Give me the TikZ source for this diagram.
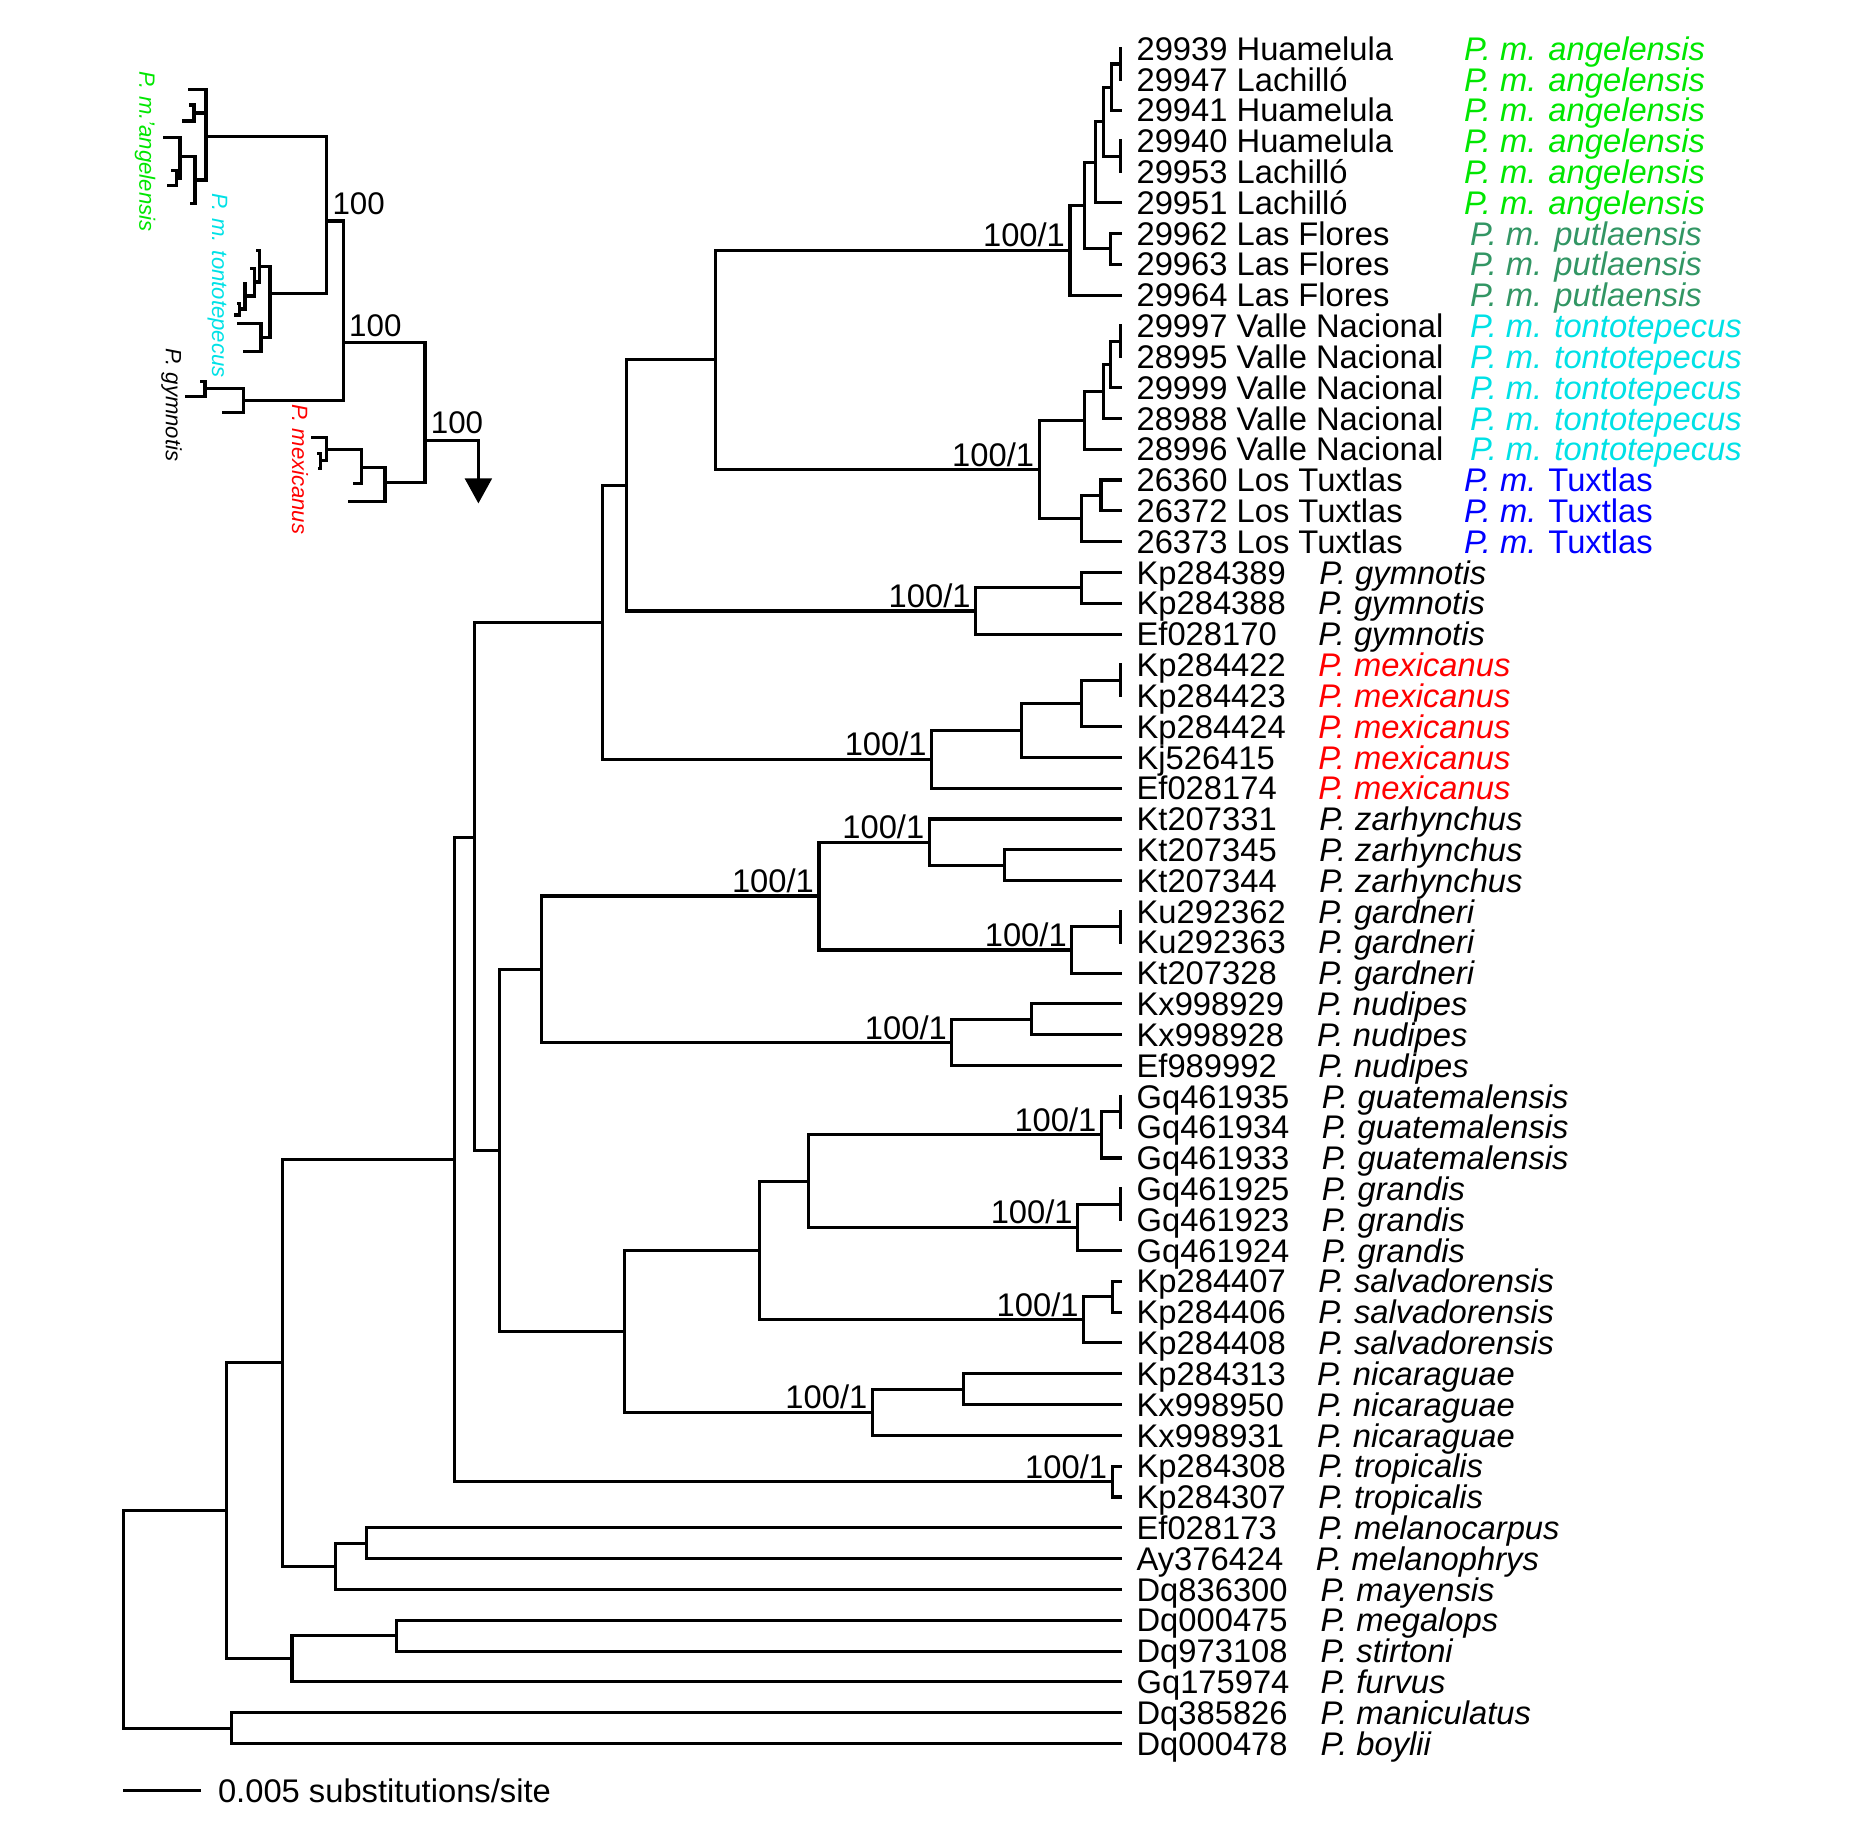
\documentclass[tikz,border=0pt]{standalone}
\usepackage{fontspec}
\setmainfont{Liberation Sans}
\usepackage{tikz}
\usetikzlibrary{arrows.meta,positioning}
\definecolor{angelgreen}{RGB}{0,230,0}
\definecolor{putlagreen}{RGB}{50,150,100}
\definecolor{tontocyan}{RGB}{0,225,230}
\definecolor{tuxblue}{RGB}{0,0,255}
\definecolor{mexred}{RGB}{255,0,0}
\newcommand{\tfont}{\fontsize{7.84}{9.4}\selectfont}
\tikzset{
  branch/.style={line width=0.75pt},
  elbow/.style={to path={|- (\tikztotarget) \tikztonodes}},
  acc/.style={anchor=west,inner xsep=3.4pt,inner ysep=0pt,text height=5.6pt,text depth=0pt,font=\tfont},
  spec/.style={anchor=west,inner sep=0pt,text height=5.6pt,text depth=0pt,font=\tfont\itshape},
  boot/.style={anchor=south east,inner xsep=1pt,inner ysep=0.6pt,text height=5.6pt,text depth=0pt,font=\tfont},
  ilabel/.style={anchor=south west,inner xsep=1.2pt,inner ysep=1.4pt,text height=5.4pt,text depth=0pt,font=\fontsize{7.5}{9}\selectfont},
  isp/.style={rotate=-90,inner sep=0pt,font=\fontsize{5.3}{6.4}\selectfont\itshape}
}
\begin{document}
\begin{tikzpicture}[x=0.01cm,y=-0.2595cm]
\useasboundingbox (0,-1.5761) rectangle (1568,57.615);

% tips
\node[acc] (tip0) at (945,0) {29939 Huamelula};
\node[acc] (tip1) at (945,1) {29947 Lachilló};
\node[acc] (tip2) at (945,2) {29941 Huamelula};
\node[acc] (tip3) at (945,3) {29940 Huamelula};
\node[acc] (tip4) at (945,4) {29953 Lachilló};
\node[acc] (tip5) at (945,5) {29951 Lachilló};
\node[acc] (tip6) at (945,6) {29962 Las Flores};
\node[acc] (tip7) at (945,7) {29963 Las Flores};
\node[acc] (tip8) at (945,8) {29964 Las Flores};
\node[acc] (tip9) at (945,9) {29997 Valle Nacional};
\node[acc] (tip10) at (945,10) {28995 Valle Nacional};
\node[acc] (tip11) at (945,11) {29999 Valle Nacional};
\node[acc] (tip12) at (945,12) {28988 Valle Nacional};
\node[acc] (tip13) at (945,13) {28996 Valle Nacional};
\node[acc] (tip14) at (945,14) {26360 Los Tuxtlas};
\node[acc] (tip15) at (945,15) {26372 Los Tuxtlas};
\node[acc] (tip16) at (945,16) {26373 Los Tuxtlas};
\node[acc] (tip17) at (945,17) {Kp284389};
\node[acc] (tip18) at (945,18) {Kp284388};
\node[acc] (tip19) at (945,19) {Ef028170};
\node[acc] (tip20) at (945,20) {Kp284422};
\node[acc] (tip21) at (945,21) {Kp284423};
\node[acc] (tip22) at (945,22) {Kp284424};
\node[acc] (tip23) at (945,23) {Kj526415};
\node[acc] (tip24) at (945,24) {Ef028174};
\node[acc] (tip25) at (945,25) {Kt207331};
\node[acc] (tip26) at (945,26) {Kt207345};
\node[acc] (tip27) at (945,27) {Kt207344};
\node[acc] (tip28) at (945,28) {Ku292362};
\node[acc] (tip29) at (945,29) {Ku292363};
\node[acc] (tip30) at (945,30) {Kt207328};
\node[acc] (tip31) at (945,31) {Kx998929};
\node[acc] (tip32) at (945,32) {Kx998928};
\node[acc] (tip33) at (945,33) {Ef989992};
\node[acc] (tip34) at (945,34) {Gq461935};
\node[acc] (tip35) at (945,35) {Gq461934};
\node[acc] (tip36) at (945,36) {Gq461933};
\node[acc] (tip37) at (945,37) {Gq461925};
\node[acc] (tip38) at (945,38) {Gq461923};
\node[acc] (tip39) at (945,39) {Gq461924};
\node[acc] (tip40) at (945,40) {Kp284407};
\node[acc] (tip41) at (945,41) {Kp284406};
\node[acc] (tip42) at (945,42) {Kp284408};
\node[acc] (tip43) at (945,43) {Kp284313};
\node[acc] (tip44) at (945,44) {Kx998950};
\node[acc] (tip45) at (945,45) {Kx998931};
\node[acc] (tip46) at (945,46) {Kp284308};
\node[acc] (tip47) at (945,47) {Kp284307};
\node[acc] (tip48) at (945,48) {Ef028173};
\node[acc] (tip49) at (945,49) {Ay376424};
\node[acc] (tip50) at (945,50) {Dq836300};
\node[acc] (tip51) at (945,51) {Dq000475};
\node[acc] (tip52) at (945,52) {Dq973108};
\node[acc] (tip53) at (945,53) {Gq175974};
\node[acc] (tip54) at (945,54) {Dq385826};
\node[acc] (tip55) at (945,55) {Dq000478};

% species names
\node[spec,text=angelgreen] (sp0) at (1233,0) {P. m. angelensis};
\node[spec,text=angelgreen] (sp1) at (1233,1) {P. m. angelensis};
\node[spec,text=angelgreen] (sp2) at (1233,2) {P. m. angelensis};
\node[spec,text=angelgreen] (sp3) at (1233,3) {P. m. angelensis};
\node[spec,text=angelgreen] (sp4) at (1233,4) {P. m. angelensis};
\node[spec,text=angelgreen] (sp5) at (1233,5) {P. m. angelensis};
\node[spec,text=putlagreen] (sp6) at (1238,6) {P. m. putlaensis};
\node[spec,text=putlagreen] (sp7) at (1238,7) {P. m. putlaensis};
\node[spec,text=putlagreen] (sp8) at (1238,8) {P. m. putlaensis};
\node[spec,text=tontocyan] (sp9) at (1238,9) {P. m. tontotepecus};
\node[spec,text=tontocyan] (sp10) at (1238,10) {P. m. tontotepecus};
\node[spec,text=tontocyan] (sp11) at (1238,11) {P. m. tontotepecus};
\node[spec,text=tontocyan] (sp12) at (1238,12) {P. m. tontotepecus};
\node[spec,text=tontocyan] (sp13) at (1238,13) {P. m. tontotepecus};
\node[spec,text=tuxblue] (sp14) at (1233,14) {P. m. \upshape Tuxtlas};
\node[spec,text=tuxblue] (sp15) at (1233,15) {P. m. \upshape Tuxtlas};
\node[spec,text=tuxblue] (sp16) at (1233,16) {P. m. \upshape Tuxtlas};
\node[spec] (sp17) at (1111,17) {P. gymnotis};
\node[spec] (sp18) at (1110,18) {P. gymnotis};
\node[spec] (sp19) at (1110,19) {P. gymnotis};
\node[spec,text=mexred] (sp20) at (1110,20) {P. mexicanus};
\node[spec,text=mexred] (sp21) at (1110,21) {P. mexicanus};
\node[spec,text=mexred] (sp22) at (1110,22) {P. mexicanus};
\node[spec,text=mexred] (sp23) at (1110,23) {P. mexicanus};
\node[spec,text=mexred] (sp24) at (1110,24) {P. mexicanus};
\node[spec] (sp25) at (1111,25) {P. zarhynchus};
\node[spec] (sp26) at (1111,26) {P. zarhynchus};
\node[spec] (sp27) at (1111,27) {P. zarhynchus};
\node[spec] (sp28) at (1110,28) {P. gardneri};
\node[spec] (sp29) at (1110,29) {P. gardneri};
\node[spec] (sp30) at (1110,30) {P. gardneri};
\node[spec] (sp31) at (1109,31) {P. nudipes};
\node[spec] (sp32) at (1109,32) {P. nudipes};
\node[spec] (sp33) at (1110,33) {P. nudipes};
\node[spec] (sp34) at (1113,34) {P. guatemalensis};
\node[spec] (sp35) at (1113,35) {P. guatemalensis};
\node[spec] (sp36) at (1113,36) {P. guatemalensis};
\node[spec] (sp37) at (1113,37) {P. grandis};
\node[spec] (sp38) at (1113,38) {P. grandis};
\node[spec] (sp39) at (1113,39) {P. grandis};
\node[spec] (sp40) at (1110,40) {P. salvadorensis};
\node[spec] (sp41) at (1110,41) {P. salvadorensis};
\node[spec] (sp42) at (1110,42) {P. salvadorensis};
\node[spec] (sp43) at (1109,43) {P. nicaraguae};
\node[spec] (sp44) at (1109,44) {P. nicaraguae};
\node[spec] (sp45) at (1109,45) {P. nicaraguae};
\node[spec] (sp46) at (1110,46) {P. tropicalis};
\node[spec] (sp47) at (1110,47) {P. tropicalis};
\node[spec] (sp48) at (1110,48) {P. melanocarpus};
\node[spec] (sp49) at (1108,49) {P. melanophrys};
\node[spec] (sp50) at (1112,50) {P. mayensis};
\node[spec] (sp51) at (1112,51) {P. megalops};
\node[spec] (sp52) at (1112,52) {P. stirtoni};
\node[spec] (sp53) at (1112,53) {P. furvus};
\node[spec] (sp54) at (1112,54) {P. maniculatus};
\node[spec] (sp55) at (1112,55) {P. boylii};

% internal nodes
\coordinate (a1) at (944,0.5);
\coordinate (a2) at (936.4,1.25);
\coordinate (a3) at (944,3.5);
\coordinate (a4) at (929.8,2.375);
\coordinate (a5) at (923.3,3.6875);
\coordinate (p1) at (935.5,6.5);
\coordinate (a6) at (913.7,5.094);
\coordinate (n1) at (901.5,6.547);
\coordinate (b1) at (944,9.5);
\coordinate (b2) at (936,10.25);
\coordinate (b3) at (929.8,11.125);
\coordinate (b4) at (913.7,12.063);
\coordinate (c1) at (927.7,14.5);
\coordinate (c2) at (911.5,15.25);
\coordinate (n2) at (875.5,13.656);
\coordinate (n3) at (603,10.102);
\coordinate (g1) at (911,17.5);
\coordinate (g2) at (822,18.25);
\coordinate (n4) at (528,14.176);
\coordinate (m1) at (944,20.5);
\coordinate (m2) at (911,21.25);
\coordinate (m3) at (861,22.125);
\coordinate (m4) at (785,23.063);
\coordinate (n5) at (508,18.619);
\coordinate (z1) at (846,26.5);
\coordinate (z2) at (783,25.75);
\coordinate (d1) at (944,28.5);
\coordinate (d2) at (903,29.25);
\coordinate (z3) at (690,27.5);
\coordinate (u1) at (869,31.5);
\coordinate (u2) at (802,32.25);
\coordinate (n6) at (456,29.875);
\coordinate (q1) at (944,34.5);
\coordinate (q2) at (928,35.25);
\coordinate (r1) at (944,37.5);
\coordinate (r2) at (908,38.25);
\coordinate (qr) at (681,36.75);
\coordinate (s1) at (937,40.5);
\coordinate (s2) at (913,41.25);
\coordinate (qs) at (640,39);
\coordinate (k1) at (812,43.5);
\coordinate (k2) at (735,44.25);
\coordinate (n7) at (526,41.625);
\coordinate (n8) at (421,35.75);
\coordinate (n9) at (400,25.59);
\coordinate (tr) at (937,46.5);
\coordinate (n10) at (383,36.045);
\coordinate (e1) at (309,48.5);
\coordinate (e2) at (283,49.25);
\coordinate (n11) at (238,42.648);
\coordinate (f1) at (334,51.5);
\coordinate (f2) at (246,52.25);
\coordinate (n12) at (191,47.449);
\coordinate (h1) at (195,54.5);
\coordinate (root) at (104,50.975);

\path[draw,branch,elbow]
(a1) edge (tip0) edge (tip1)
(a2) edge (a1) edge (tip2)
(a3) edge (tip3) edge (tip4)
(a4) edge (a2) edge (a3)
(a5) edge (a4) edge (tip5)
(p1) edge (tip6) edge (tip7)
(a6) edge (a5) edge (p1)
(n1) edge (a6) edge (tip8)
(b1) edge (tip9) edge (tip10)
(b2) edge (b1) edge (tip11)
(b3) edge (b2) edge (tip12)
(b4) edge (b3) edge (tip13)
(c1) edge (tip14) edge (tip15)
(c2) edge (c1) edge (tip16)
(n2) edge (b4) edge (c2)
(n3) edge (n1) edge (n2)
(g1) edge (tip17) edge (tip18)
(g2) edge (g1) edge (tip19)
(n4) edge (n3) edge (g2)
(m1) edge (tip20) edge (tip21)
(m2) edge (m1) edge (tip22)
(m3) edge (m2) edge (tip23)
(m4) edge (m3) edge (tip24)
(n5) edge (n4) edge (m4)
(z1) edge (tip26) edge (tip27)
(z2) edge (tip25) edge (z1)
(d1) edge (tip28) edge (tip29)
(d2) edge (d1) edge (tip30)
(z3) edge (z2) edge (d2)
(u1) edge (tip31) edge (tip32)
(u2) edge (u1) edge (tip33)
(n6) edge (z3) edge (u2)
(q1) edge (tip34) edge (tip35)
(q2) edge (q1) edge (tip36)
(r1) edge (tip37) edge (tip38)
(r2) edge (r1) edge (tip39)
(qr) edge (q2) edge (r2)
(s1) edge (tip40) edge (tip41)
(s2) edge (s1) edge (tip42)
(qs) edge (qr) edge (s2)
(k1) edge (tip43) edge (tip44)
(k2) edge (k1) edge (tip45)
(n7) edge (qs) edge (k2)
(n8) edge (n6) edge (n7)
(n9) edge (n5) edge (n8)
(tr) edge (tip46) edge (tip47)
(n10) edge (n9) edge (tr)
(e1) edge (tip48) edge (tip49)
(e2) edge (e1) edge (tip50)
(n11) edge (n10) edge (e2)
(f1) edge (tip51) edge (tip52)
(f2) edge (f1) edge (tip53)
(n12) edge (n11) edge (f2)
(h1) edge (tip54) edge (tip55)
(root) edge (n12) edge (h1);

% support values
\node[boot] (bs1) at (n1) {100/1};
\node[boot] (bs2) at (n2) {100/1};
\node[boot] (bs3) at (g2) {100/1};
\node[boot] (bs4) at (m4) {100/1};
\node[boot] (bs5) at (z2) {100/1};
\node[boot] (bs6) at (z3) {100/1};
\node[boot] (bs7) at (d2) {100/1};
\node[boot] (bs8) at (u2) {100/1};
\node[boot] (bs9) at (q2) {100/1};
\node[boot] (bs10) at (r2) {100/1};
\node[boot] (bs11) at (s2) {100/1};
\node[boot] (bs12) at (k2) {100/1};
\node[boot] (bs13) at (tr) {100/1};

% scale bar
\coordinate (sb0) at (104,56.535);
\coordinate (sb1) at (169,56.535);
\draw[branch] (sb0) -- (sb1);
\node[anchor=west,inner sep=0pt,text height=5.6pt,text depth=0pt,font=\tfont] (sbtext) at (183,56.535) {0.005 substitutions/site};

% inset
\begin{scope}[shift={(84.25,-0.2775)},x=0.0028083cm,y=-0.0028083cm]
\coordinate (ia1) at (265,148);
\coordinate (ia2) at (268,195);
\coordinate (ia3) at (245,243);
\coordinate (ia4) at (190,293);
\coordinate (ia5) at (212,392);
\coordinate (ia6) at (200,437);
\coordinate (ia7) at (270,490);
\coordinate (iA1) at (282,219);
\coordinate (iA4) at (230,414);
\coordinate (iA3) at (240,350);
\coordinate (iA2) at (285,420);
\coordinate (iA0) at (318,290);
\coordinate (it1) at (468,632);
\coordinate (it2) at (450,685);
\coordinate (it3) at (428,730);
\coordinate (it4) at (410,790);
\coordinate (it5) at (402,825);
\coordinate (iL4) at (418,807);
\coordinate (iL3) at (435,768);
\coordinate (iL2) at (463,726);
\coordinate (iL1) at (478,679);
\coordinate (ix1) at (410,850);
\coordinate (ix2) at (430,935);
\coordinate (iU) at (483,892);
\coordinate (iT0) at (510,760);
\coordinate (ig1) at (300,1025);
\coordinate (ig2) at (255,1068);
\coordinate (ig3) at (365,1118);
\coordinate (iG1) at (315,1046);
\coordinate (iG2) at (430,1080);
\coordinate (im1) at (632,1192);
\coordinate (im2) at (652,1240);
\coordinate (im3) at (655,1285);
\coordinate (im4) at (760,1330);
\coordinate (im5) at (745,1385);
\coordinate (iM0) at (662,1262);
\coordinate (iM1) at (680,1227);
\coordinate (iM2) at (785,1282);
\coordinate (iM3) at (855,1328);
\coordinate (iR1) at (680,543);
\coordinate (iR2) at (730,908);
\coordinate (iR3) at (975,1200);
\coordinate (iout) at (1135,1390);

\path[draw,branch,elbow]
(iA1) edge (ia2) edge (ia3)
(iA4) edge (ia5) edge (ia6)
(iA3) edge (ia4) edge (iA4)
(iA2) edge (iA3) edge (ia7)
(iA0) edge (ia1) edge (iA1) edge (iA2)
(iL4) edge (it4) edge (it5)
(iL3) edge (it3) edge (iL4)
(iL2) edge (it2) edge (iL3)
(iL1) edge (it1) edge (iL2)
(iU) edge (ix1) edge (ix2)
(iT0) edge (iL1) edge (iU)
(iR1) edge (iA0) edge (iT0)
(iG1) edge (ig1) edge (ig2)
(iG2) edge (iG1) edge (ig3)
(iR2) edge (iR1) edge (iG2)
(iM0) edge (im2) edge (im3)
(iM1) edge (im1) edge (iM0)
(iM2) edge (iM1) edge (im4)
(iM3) edge (iM2) edge (im5)
(iR3) edge (iR2) edge (iM3);
\draw[branch,-{Triangle[width=6.4pt,length=6pt]}] (iR3) -| (iout);

\node[ilabel] (ib1) at (iR1) {100};
\node[ilabel] (ib2) at (iR2) {100};
\node[ilabel] (ib3) at (iR3) {100};

\node[isp,text=angelgreen] (ilab1) at (135,335) {P. m.'angelensis};
\node[isp,text=tontocyan] (ilab2) at (352,737) {P. m. tontotepecus};
\node[isp] (ilab3) at (215,1095) {P. gymnotis};
\node[isp,text=mexred] (ilab4) at (600,1288) {P. mexicanus};
\end{scope}
\end{tikzpicture}
\end{document}
